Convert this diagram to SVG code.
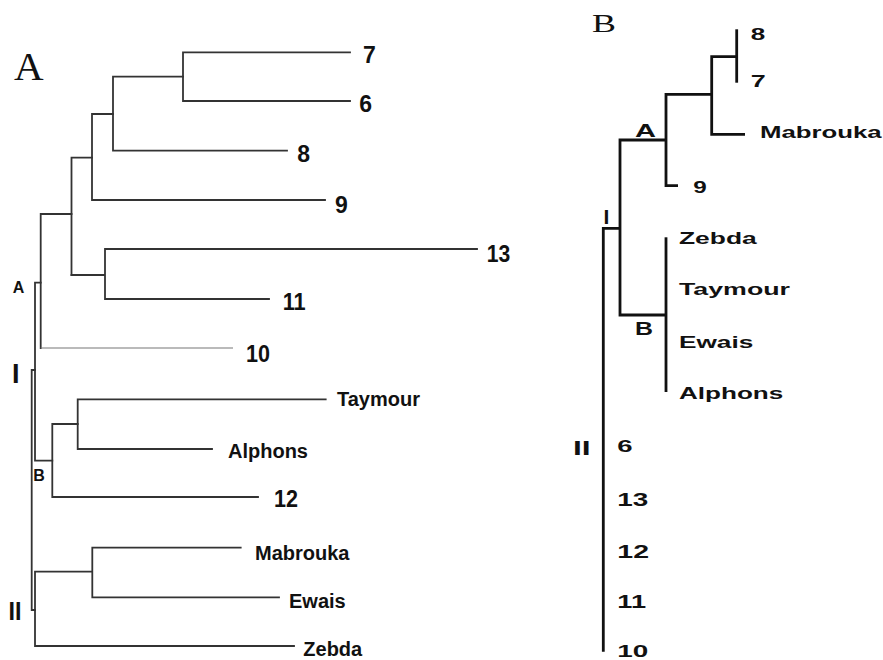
<svg xmlns="http://www.w3.org/2000/svg" width="883" height="660" viewBox="0 0 883 660">
<style>
.bg{fill:#fff}
.lt{fill:none;stroke:#333;stroke-width:1.8;stroke-linecap:square}
.lt-thin{fill:none;stroke:#777;stroke-width:1.2}
.rt{fill:none;stroke:#111;stroke-width:2.8;stroke-linecap:butt}
.num{font-family:"Liberation Sans",Arial,sans-serif;font-weight:bold;font-size:23px;fill:#111}
.nm{font-family:"Liberation Sans",Arial,sans-serif;font-weight:bold;font-size:20px;fill:#111}
.rl{font-family:"Liberation Sans",Arial,sans-serif;font-weight:bold;font-size:17px;fill:#111}
.title{font-family:"Liberation Serif","Times New Roman",serif;fill:#111}
</style>
<rect class="bg" x="0" y="0" width="883" height="660"/>

<!-- Panel A connectors -->
<g id="connectors-A">
<path class="lt" d="M350 52.3H183V101H350"/>
<path class="lt" d="M183 76.7H113V150.7H287"/>
<path class="lt" d="M113 114H92V200H325"/>
<path class="lt" d="M92 157.7H71.5V275"/>
<path class="lt" d="M71.5 275H105V249H477M105 275V299H269"/>
<path class="lt" d="M71.5 214H40.7V348"/>
<path class="lt-thin" d="M40.7 348H233"/>
<path class="lt" d="M40.7 282.7H35V460.7H52.3"/>
<path class="lt" d="M52.3 424V497H258M52.3 424H77.7"/>
<path class="lt" d="M77.7 399.3V449H212M77.7 399.3H325.7"/>
<path class="lt" d="M35 370H31.7V610H35"/>
<path class="lt" d="M35 571.7V646H294M35 571.7H92.3V547.7H240.7M92.3 571.7V597.3H279"/>
</g>

<!-- Panel A labels -->
<g id="titleA"><text class="title" x="14" y="80" style="font-size:41px">A</text></g>
<g id="A-7"><text class="num" x="363" y="63.3">7</text></g>
<g id="A-6"><text class="num" x="359.3" y="111.7">6</text></g>
<g id="A-8"><text class="num" x="297.3" y="162.3">8</text></g>
<g id="A-9"><text class="num" x="335" y="213">9</text></g>
<g id="A-13"><text class="num" x="486.7" y="262.3" textLength="23.5" lengthAdjust="spacingAndGlyphs">13</text></g>
<g id="A-11"><text class="num" x="282.7" y="310" textLength="23" lengthAdjust="spacingAndGlyphs">11</text></g>
<g id="A-10"><text class="num" x="246" y="361.7" textLength="24" lengthAdjust="spacingAndGlyphs">10</text></g>
<g id="A-Taymour"><text class="nm" x="337" y="406">Taymour</text></g>
<g id="A-Alphons"><text class="nm" x="228" y="457.5">Alphons</text></g>
<g id="A-12"><text class="num" x="274" y="507" textLength="24" lengthAdjust="spacingAndGlyphs">12</text></g>
<g id="A-Mabrouka"><text class="nm" x="255" y="559.5">Mabrouka</text></g>
<g id="A-Ewais"><text class="nm" x="289" y="607.5">Ewais</text></g>
<g id="A-Zebda"><text class="nm" x="303.3" y="656">Zebda</text></g>
<g id="A-cladeA"><text class="rl" x="12.7" y="292.7" style="font-size:16px">A</text></g>
<g id="A-cladeI"><text class="nm" x="12" y="382.7" style="font-size:27px">I</text></g>
<g id="A-cladeB"><text class="rl" x="33.3" y="480.7" style="font-size:16px">B</text></g>
<g id="A-cladeII"><text class="nm" x="8.5" y="620" style="font-size:26px" textLength="13" lengthAdjust="spacingAndGlyphs">II</text></g>

<!-- Panel B connectors -->
<g id="connectors-B">
<path class="rt" d="M736.7 29.3V82.7"/>
<path class="rt" d="M736.7 56.7H711.7V134.3H745"/>
<path class="rt" d="M711.7 94.3H666V185.7H678"/>
<path class="rt" d="M666 140H620V315H666"/>
<path class="rt" d="M666 237.3V392"/>
<path class="rt" d="M620 228.3H603.3V651.7"/>
</g>

<!-- Panel B labels -->
<g id="titleB"><text class="title" x="592" y="31.7" style="font-size:25px" textLength="24" lengthAdjust="spacingAndGlyphs">B</text></g>
<g id="B-8"><text class="rl" x="750.7" y="40" textLength="14.5" lengthAdjust="spacingAndGlyphs">8</text></g>
<g id="B-7"><text class="rl" x="750.7" y="87.3" textLength="15" lengthAdjust="spacingAndGlyphs">7</text></g>
<g id="B-Mabrouka"><text class="rl" x="760" y="137.7" textLength="121.7" lengthAdjust="spacingAndGlyphs">Mabrouka</text></g>
<g id="B-cladeA"><text class="rl" x="635" y="136.7" style="font-size:19px" textLength="21" lengthAdjust="spacingAndGlyphs">A</text></g>
<g id="B-9"><text class="rl" x="693.3" y="192.7" textLength="13.5" lengthAdjust="spacingAndGlyphs">9</text></g>
<g id="B-cladeI"><text class="rl" x="603.5" y="224" style="font-size:21px">I</text></g>
<g id="B-Zebda"><text class="rl" x="679" y="244" textLength="77.7" lengthAdjust="spacingAndGlyphs">Zebda</text></g>
<g id="B-Taymour"><text class="rl" x="679" y="295" textLength="111" lengthAdjust="spacingAndGlyphs">Taymour</text></g>
<g id="B-cladeB"><text class="rl" x="635" y="335" style="font-size:18.5px" textLength="18" lengthAdjust="spacingAndGlyphs">B</text></g>
<g id="B-Ewais"><text class="rl" x="679" y="348.3" textLength="74.3" lengthAdjust="spacingAndGlyphs">Ewais</text></g>
<g id="B-Alphons"><text class="rl" x="679" y="399" textLength="104.3" lengthAdjust="spacingAndGlyphs">Alphons</text></g>
<g id="B-cladeII"><text class="rl" x="573" y="455" style="font-size:20px" textLength="17.7" lengthAdjust="spacingAndGlyphs">II</text></g>
<g id="B-6"><text class="rl" x="617.3" y="451.7" textLength="15.3" lengthAdjust="spacingAndGlyphs">6</text></g>
<g id="B-13"><text class="rl" x="617.3" y="505.7" style="font-size:18px" textLength="31" lengthAdjust="spacingAndGlyphs">13</text></g>
<g id="B-12"><text class="rl" x="617.3" y="557.7" style="font-size:18px" textLength="31.7" lengthAdjust="spacingAndGlyphs">12</text></g>
<g id="B-11"><text class="rl" x="617.3" y="608.3" style="font-size:18px" textLength="28.7" lengthAdjust="spacingAndGlyphs">11</text></g>
<g id="B-10"><text class="rl" x="617.3" y="657" style="font-size:17px" textLength="31" lengthAdjust="spacingAndGlyphs">10</text></g>
</svg>
